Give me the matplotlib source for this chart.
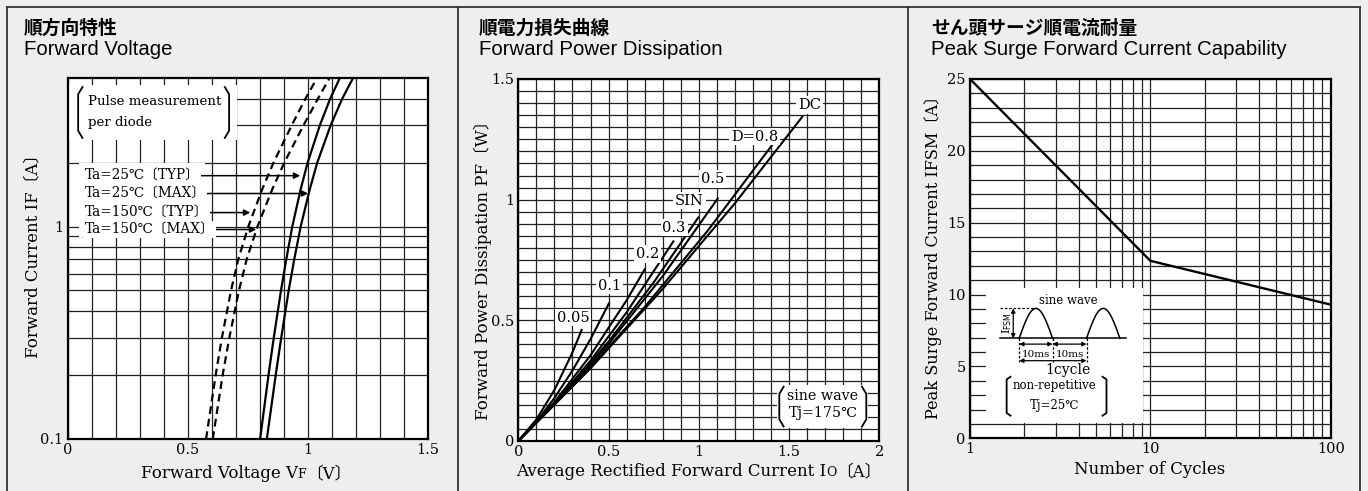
import numpy as np
import matplotlib
matplotlib.use("Agg")
import matplotlib.pyplot as plt
from matplotlib.lines import Line2D
from matplotlib.patches import Rectangle
from matplotlib.ticker import FixedLocator, NullFormatter, FuncFormatter

SERIF = ['DejaVu Serif', 'Noto Sans CJK JP']
SANS = ['Liberation Sans', 'Noto Sans CJK JP']
JP = ['Noto Sans CJK JP', 'DejaVu Sans']
BG = '#edeeee'

# --- panel 1: forward voltage (current in A, voltage in V)
if_current = [0.1, 0.2, 0.3, 0.5, 0.7, 1, 1.5, 2, 3, 4, 5]
vf_25_typ = [0.801, 0.836, 0.858, 0.888, 0.910, 0.935, 0.970, 0.999, 1.050, 1.093, 1.133]
vf_25_max = [0.829, 0.866, 0.889, 0.920, 0.943, 0.970, 1.008, 1.039, 1.095, 1.143, 1.188]
vf_150_typ = [0.576, 0.616, 0.642, 0.680, 0.710, 0.752, 0.810, 0.857, 0.933, 0.990, 1.038]
vf_150_max = [0.604, 0.645, 0.673, 0.713, 0.745, 0.790, 0.852, 0.902, 0.982, 1.042, 1.090]
vf_labels = ['Ta=25℃〔TYP〕', 'Ta=25℃〔MAX〕', 'Ta=150℃〔TYP〕', 'Ta=150℃〔MAX〕']

# --- panel 2: forward power dissipation (Io in A, Pf in W)
pd_names = ['0.05', '0.1', '0.2', '0.3', 'SIN', '0.5', 'D=0.8', 'DC']
pd_io = [
    [0, 0.1, 0.2, 0.3, 0.351],
    [0, 0.1, 0.2, 0.3, 0.4, 0.502],
    [0, 0.2, 0.4, 0.6, 0.701],
    [0, 0.2, 0.4, 0.6, 0.859],
    [0, 0.25, 0.5, 0.75, 0.997],
    [0, 0.25, 0.5, 0.8, 1.105],
    [0, 0.35, 0.7, 1.05, 1.404],
    [0, 0.4, 0.8, 1.2, 1.574],
]
pd_pf = [
    [0, 0.089, 0.211, 0.367, 0.460],
    [0, 0.080, 0.178, 0.292, 0.422, 0.570],
    [0, 0.161, 0.355, 0.583, 0.712],
    [0, 0.155, 0.333, 0.533, 0.827],
    [0, 0.193, 0.412, 0.657, 0.926],
    [0, 0.190, 0.402, 0.683, 1.005],
    [0, 0.265, 0.555, 0.872, 1.224],
    [0, 0.301, 0.630, 0.985, 1.344],
]
# label anchor (Io, Pf) for each curve name
pd_label_pos = [(0.305, 0.511), (0.504, 0.644), (0.715, 0.775), (0.863, 0.884),
                (0.948, 0.996), (1.077, 1.086), (1.308, 1.261), (1.612, 1.392)]

# --- panel 3: peak surge forward current
cycles = [1, 10, 100]
ifsm = [25.0, 12.35, 9.3]

fig = plt.figure(figsize=(13.68, 4.91), dpi=100, facecolor=BG)
W, H = 1368, 491


def px(x, y):
    return x / W, 1 - y / H


# frame lines
for x in [7, 458, 908, 1360]:
    fig.add_artist(Line2D([x / W, x / W], [0, 1 - 7 / H], color='#333333', lw=1.3))
fig.add_artist(Line2D([7 / W, 1360 / W], [1 - 7 / H, 1 - 7 / H], color='#333333', lw=1.3))

titles = [(24, '順方向特性', 'Forward Voltage'),
          (479, '順電力損失曲線', 'Forward Power Dissipation'),
          (931, 'せん頭サージ順電流耐量', 'Peak Surge Forward Current Capability')]
for x, jp, en in titles:
    fig.text(*px(x, 28), jp, family=JP, fontweight='bold', fontsize=13.5, va='center')
    fig.text(*px(x, 55), en, family=SANS, fontsize=14.7, va='baseline')


def rich_text(x, y, parts, size=12):
    # horizontal label made of pieces with different sizes, centred at x, baseline y
    r = fig.canvas.get_renderer()
    widths = []
    for s, k in parts:
        t = fig.text(0, 0, s, fontsize=size * k, family=SERIF)
        widths.append(t.get_window_extent(r).width)
        t.remove()
    off = -sum(widths) / 2
    fx, fy = px(x, y)
    for (s, k), w in zip(parts, widths):
        fig.text(fx + off / W, fy, s, fontsize=size * k, family=SERIF,
                 ha='left', va='baseline')
        off += w


def ylabel(x, y, s, size=12):
    fig.text(*px(x, y), s, fontsize=size, family=SERIF, rotation=90,
             ha='center', va='center')


def bracket(ax, x, y0, y1, side, d=0.012, lw=1.3):
    s = 1 if side == 'left' else -1
    ax.add_line(Line2D([x + s * d, x, x, x + s * d], [y0, y0 - 0.02, y1 + 0.02, y1],
                       transform=ax.transAxes, color='k', lw=lw, zorder=6))


def style_axes(ax):
    ax.set_facecolor('white')
    for sp in ax.spines.values():
        sp.set_linewidth(1.6)
        sp.set_zorder(10)
    ax.tick_params(which='both', length=0, labelsize=10.5, pad=3)
    for lab in ax.get_xticklabels() + ax.get_yticklabels():
        lab.set_family(SERIF)
    ax.grid(which='both', color='#222222', lw=0.9)
    ax.set_axisbelow(True)


# ================= panel 1
ax1 = fig.add_axes([67.7 / W, 1 - 439 / H, 360.3 / W, 361 / H])
ax1.set_yscale('log')
ax1.set_xlim(0, 1.5)
ax1.set_ylim(0.1, 5)
ax1.set_xticks([0, 0.5, 1, 1.5])
ax1.set_xticklabels(['0', '0.5', '1', '1.5'])
ax1.xaxis.set_minor_locator(FixedLocator(np.arange(0.1, 1.5, 0.1)))
ax1.set_yticks([0.1, 1])
ax1.set_yticklabels(['0.1', '1'])
ax1.yaxis.set_minor_locator(FixedLocator([0.2, 0.3, 0.4, 0.5, 0.6, 0.7, 0.8, 0.9, 2, 3, 4]))
ax1.yaxis.set_minor_formatter(NullFormatter())
style_axes(ax1)

ax1.plot(vf_25_typ, if_current, color='k', lw=1.6, zorder=4)
ax1.plot(vf_25_max, if_current, color='k', lw=1.6, zorder=4)
ax1.plot(vf_150_typ, if_current, color='k', lw=1.6, ls=(0, (3.5, 2.2)), zorder=4)
ax1.plot(vf_150_max, if_current, color='k', lw=1.6, ls=(0, (3.5, 2.2)), zorder=4)

ax1.add_patch(Rectangle((0, 0.828), 0.47, 0.152, transform=ax1.transAxes,
                        facecolor='white', edgecolor='none', zorder=3))
ax1.add_patch(Rectangle((0.03, 0.56), 0.35, 0.205, transform=ax1.transAxes,
                        facecolor='white', edgecolor='none', zorder=3))
bracket(ax1, 0.029, 0.975, 0.834, 'left')
bracket(ax1, 0.448, 0.975, 0.834, 'right')
ax1.text(0.056, 0.934, 'Pulse measurement', transform=ax1.transAxes, family=SERIF,
         fontsize=9.6, va='center', zorder=6)
ax1.text(0.056, 0.878, 'per diode', transform=ax1.transAxes, family=SERIF,
         fontsize=9.6, va='center', zorder=6)

lab_y = [1.735, 1.43, 1.163, 0.968]
tip_x = [0.968, 1.001, 0.76, 0.785]
for lab, yy, tx in zip(vf_labels, lab_y, tip_x):
    ax1.annotate(lab, xy=(tx, yy), xytext=(0.072, yy), family=SERIF, fontsize=9.8,
                 va='center', ha='left', zorder=7,
                 bbox=dict(boxstyle='square,pad=0.1', fc='white', ec='none'),
                 arrowprops=dict(arrowstyle='-|>', color='k', lw=1.1, shrinkA=0,
                                 shrinkB=0, mutation_scale=9))

rich_text(246, 478, [('Forward Voltage V', 1), ('F', 0.75), ('〔V〕', 1)])
ylabel(33, 252, 'Forward Current IF〔A〕')

# ================= panel 2
ax2 = fig.add_axes([518.3 / W, 1 - 441 / H, 361 / W, 362 / H])
ax2.set_xlim(0, 2)
ax2.set_ylim(0, 1.5)
ax2.set_xticks([0, 0.5, 1, 1.5, 2])
ax2.set_xticklabels(['0', '0.5', '1', '1.5', '2'])
ax2.set_yticks([0, 0.5, 1, 1.5])
ax2.set_yticklabels(['0', '0.5', '1', '1.5'])
ax2.xaxis.set_minor_locator(FixedLocator(np.arange(0.1, 2.0, 0.1)))
ax2.yaxis.set_minor_locator(FixedLocator(np.arange(0.05, 1.5, 0.05)))
style_axes(ax2)

for xs, ys in zip(pd_io, pd_pf):
    ax2.plot(xs, ys, color='k', lw=1.5, zorder=4)
for name, (lx, ly) in zip(pd_names, pd_label_pos):
    ax2.text(lx, ly, name, family=SERIF, fontsize=10.5, ha='center', va='center', zorder=6,
             bbox=dict(boxstyle='square,pad=0.12', fc='white', ec='none'))

ax2.add_patch(Rectangle((0.716, 0.035), 0.254, 0.12, transform=ax2.transAxes,
                        facecolor='white', edgecolor='none', zorder=3))
bracket(ax2, 0.723, 0.15, 0.04, 'left')
bracket(ax2, 0.964, 0.15, 0.04, 'right')
ax2.text(0.844, 0.124, 'sine wave', transform=ax2.transAxes, family=SERIF, fontsize=10.3,
         ha='center', va='center', zorder=6)
ax2.text(0.844, 0.077, 'Tj=175℃', transform=ax2.transAxes, family=SERIF, fontsize=10.3,
         ha='center', va='center', zorder=6)

rich_text(699, 476, [('Average Rectified Forward Current I', 1), ('O', 0.75), ('〔A〕', 1)])
ylabel(483, 266, 'Forward Power Dissipation PF〔W〕')

# ================= panel 3
ax3 = fig.add_axes([970 / W, 1 - 438.3 / H, 360.7 / W, 359.3 / H])
ax3.set_xscale('log')
ax3.set_xlim(1, 100)
ax3.set_ylim(0, 25)
ax3.set_xticks([1, 10, 100])
ax3.xaxis.set_major_formatter(FuncFormatter(lambda v, p: '%d' % v))
ax3.xaxis.set_minor_locator(FixedLocator([2, 3, 4, 5, 6, 7, 8, 9, 20, 30, 40, 50, 60, 70, 80, 90]))
ax3.xaxis.set_minor_formatter(NullFormatter())
ax3.set_yticks([0, 5, 10, 15, 20, 25])
ax3.yaxis.set_minor_locator(FixedLocator(np.arange(1, 25, 1)))
style_axes(ax3)
ax3.plot(cycles, ifsm, color='k', lw=1.7, zorder=4)

ins = ax3.inset_axes([0.044, 0.042, 0.436, 0.375])
ins.set_xlim(0, 1)
ins.set_ylim(0, 1)
ins.set_facecolor('white')
ins.set_xticks([])
ins.set_yticks([])
for sp in ins.spines.values():
    sp.set_visible(False)
ins.set_zorder(5)
t = np.linspace(0, np.pi, 60)
base, peak = 0.63, 0.852
for a, b in [(0.212, 0.424), (0.64, 0.852)]:
    ins.plot(a + (b - a) * t / np.pi, base + (peak - base) * np.sin(t), color='k', lw=1.1)
ins.plot([0.089, 0.894], [base, base], color='k', lw=1.1)
ins.plot([0.089, 0.318], [peak, peak], color='k', lw=0.9, ls=(0, (2, 1.5)))
ins.annotate('', xy=(0.174, peak), xytext=(0.174, base),
             arrowprops=dict(arrowstyle='<|-|>', color='k', lw=0.9, shrinkA=0, shrinkB=0,
                             mutation_scale=6))
for xv in [0.212, 0.424, 0.64]:
    ins.plot([xv, xv], [base, 0.454], color='k', lw=0.9, ls=(0, (2, 1.5)))
for a, b in [(0.212, 0.424), (0.424, 0.64)]:
    ins.annotate('', xy=(a, 0.587), xytext=(b, 0.587),
                 arrowprops=dict(arrowstyle='<|-|>', color='k', lw=0.9, shrinkA=0, shrinkB=0,
                                 mutation_scale=6))
ins.annotate('', xy=(0.212, 0.464), xytext=(0.64, 0.464),
             arrowprops=dict(arrowstyle='<|-|>', color='k', lw=0.9, shrinkA=0, shrinkB=0,
                             mutation_scale=6))
ins.text(0.523, 0.913, 'sine wave', family=SERIF, fontsize=8.5, ha='center', va='center')
ins.text(0.318, 0.511, '10ms', family=SERIF, fontsize=7.5, ha='center', va='center')
ins.text(0.532, 0.511, '10ms', family=SERIF, fontsize=7.5, ha='center', va='center')
ins.text(0.52, 0.395, '1cycle', family=SERIF, fontsize=10, ha='center', va='center')
ins.text(0.437, 0.279, 'non-repetitive', family=SERIF, fontsize=8.5, ha='center', va='center')
ins.text(0.437, 0.13, 'Tj=25℃', family=SERIF, fontsize=8.5, ha='center', va='center')
ins.text(0.135, 0.74, 'I$_{\\rm FSM}$', family=SERIF, fontsize=8, ha='center', va='center',
         rotation=90)
bracket(ins, 0.132, 0.345, 0.056, 'left', d=0.025)
bracket(ins, 0.767, 0.345, 0.056, 'right', d=0.025)

rich_text(1150, 474, [('Number of Cycles', 1)])
ylabel(933, 253, 'Peak Surge Forward Current IFSM〔A〕', size=11.6)

fig.savefig('out.png', dpi=100, facecolor=BG)
